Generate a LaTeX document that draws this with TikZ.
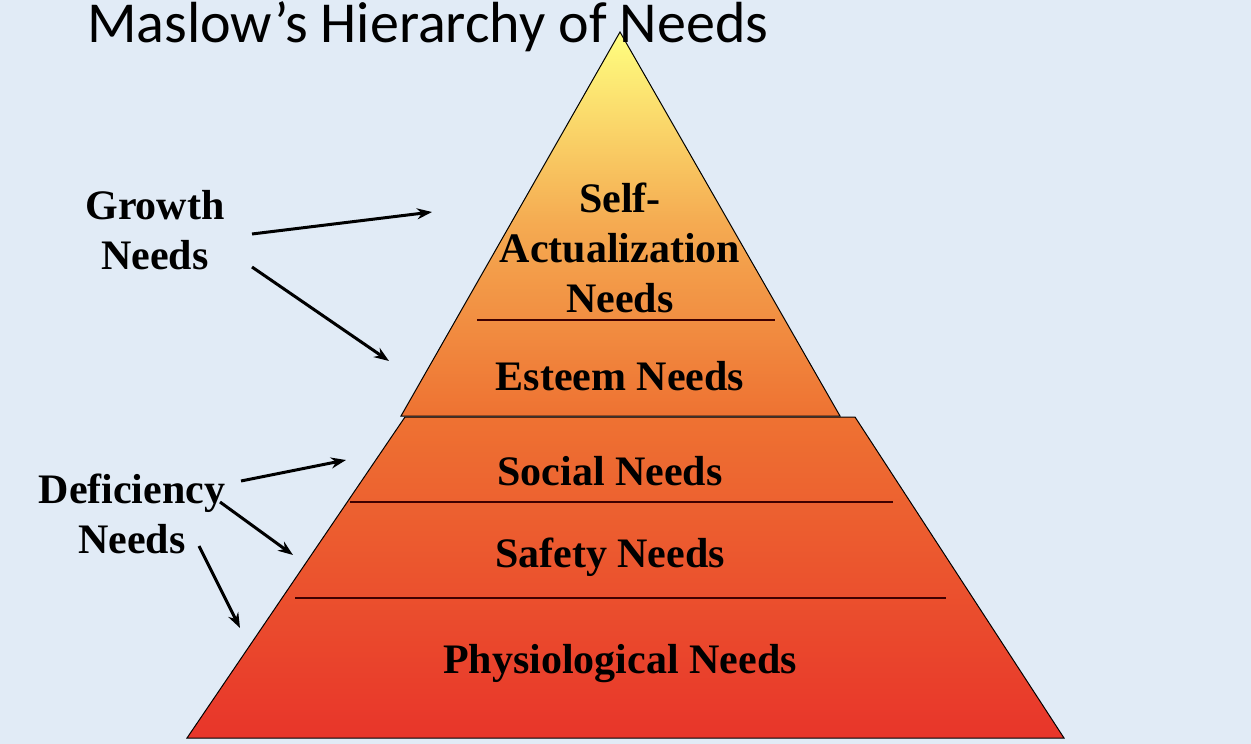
\documentclass[tikz,border=0pt]{standalone}
\usepackage{fontspec}
\setmainfont{Liberation Serif}
\newfontfamily\titlefont{Carlito}
\usetikzlibrary{arrows.meta}
\definecolor{bgblue}{HTML}{E1EBF6}
\definecolor{topyellow}{HTML}{FFFF80}
\definecolor{midorange}{HTML}{EE7232}
\definecolor{botred}{HTML}{E8352A}
\begin{document}
\begin{tikzpicture}[x=1pt, y=-1pt]
\tikzstyle{lvl} = [font=\fontsize{42}{50}\selectfont\bfseries, align=center, inner sep=0pt]
\tikzstyle{side} = [font=\fontsize{42}{50}\selectfont\bfseries, align=center, inner sep=0pt]
\tikzstyle{sep} = [draw=black!75!red, line width=1.3pt]
\tikzstyle{arr} = [-{Stealth[length=15pt, width=11pt]}, line width=3pt]

\fill[bgblue] (0,0) rectangle (1251,744);
\useasboundingbox (0,0) rectangle (1251,744);

% lower trapezoid
\shade[top color=midorange, bottom color=botred, draw=black, line width=1pt]
  (405,417) -- (855,417) -- (1064,738) -- (187,738) -- cycle;
% upper triangle
\shade[top color=topyellow, bottom color=midorange, middle color=midorange!60!topyellow, draw=black, line width=1pt]
  (620,32) -- (840,416) -- (401,416) -- cycle;

\draw[sep] (477,320) -- (775,320);
\draw[sep] (350,502) -- (893,502);
\draw[sep] (295,598) -- (946,598);

\node[anchor=base west, inner sep=0pt, font=\titlefont\fontsize{58}{60}\selectfont] (title) at (87,42) {Maslow’s Hierarchy of Needs};

\node[lvl] (self) at (620,248) {Self-\\Actualization\\Needs};
\node[lvl] (esteem) at (620,376) {Esteem Needs};
\node[lvl] (social) at (610,471) {Social Needs};
\node[lvl] (safety) at (610,557) {Safety Needs};
\node[lvl] (physio) at (620,664) {Physiological Needs};

\node[side] (growth) at (155,230) {Growth\\Needs};
\node[side] (deficiency) at (132,514) {Deficiency\\Needs};

\coordinate (g1s) at (252,234);
\coordinate (g1e) at (432,212);
\coordinate (g2s) at (252,267);
\coordinate (g2e) at (389,361);
\coordinate (d1s) at (241,481);
\coordinate (d1e) at (346,460);
\coordinate (d2s) at (220,502);
\coordinate (d2e) at (293,555);
\coordinate (d3s) at (199,546);
\coordinate (d3e) at (240,628);

\draw[arr] (g1s) -- (g1e);
\draw[arr] (g2s) -- (g2e);
\draw[arr] (d1s) -- (d1e);
\draw[arr] (d2s) -- (d2e);
\draw[arr] (d3s) -- (d3e);
\end{tikzpicture}
\end{document}
